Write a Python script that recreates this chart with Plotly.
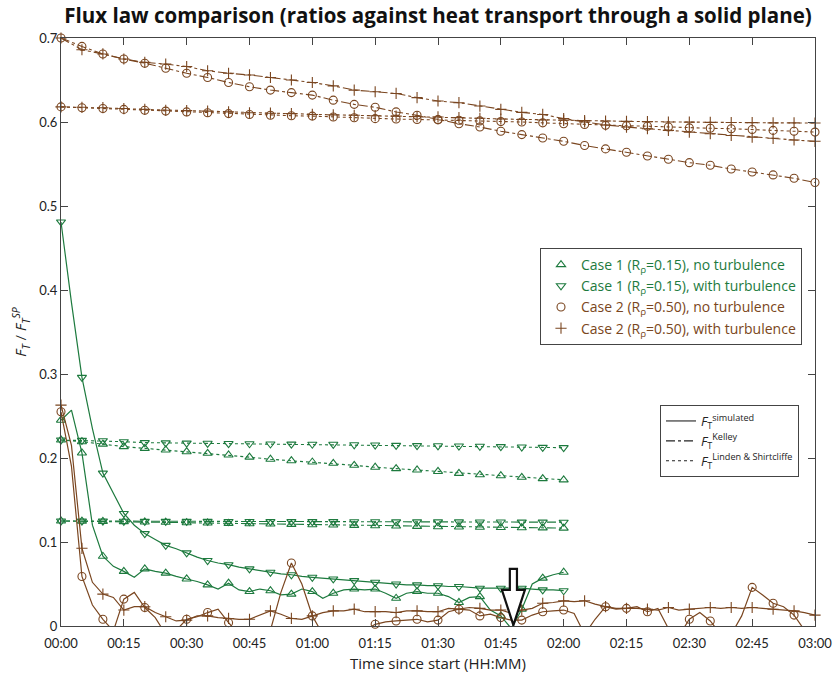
import plotly.graph_objects as go

GREEN = "#1d7a3e"
BROWN = "#7a4620"
AXIS = "#444444"
FONT = "Open Sans"

# ---------------- time bases (minutes since start) ----------------
t_sim2 = [i * 2.5 for i in range(73)]      # 0 .. 180 min
t_sim1 = t_sim2[:49]                        # 0 .. 120 min
t_mod2 = [i * 5 for i in range(37)]         # 0 .. 180 min
t_mod1 = t_mod2[:25]                        # 0 .. 120 min

tick_vals = [0, 15, 30, 45, 60, 75, 90, 105, 120, 135, 150, 165, 180]
tick_text = ["00:00", "00:15", "00:30", "00:45", "01:00", "01:15", "01:30",
             "01:45", "02:00", "02:15", "02:30", "02:45", "03:00"]
ytick_vals = [0, 0.1, 0.2, 0.3, 0.4, 0.5, 0.6, 0.7]
ytick_text = ["0", "0.1", "0.2", "0.3", "0.4", "0.5", "0.6", "0.7"]

# ---------------- Case 1 (R=0.15), simulated ----------------
c1_noturb_sim = [0.245, 0.257, 0.206, 0.120, 0.083, 0.071, 0.065, 0.058, 0.068, 0.065,
                 0.063, 0.059, 0.056, 0.053, 0.049, 0.044, 0.051, 0.043, 0.041, 0.044,
                 0.042, 0.037, 0.038, 0.044, 0.041, 0.033, 0.039, 0.043, 0.044, 0.043,
                 0.044, 0.039, 0.033, 0.039, 0.041, 0.039, 0.039, 0.035, 0.028, 0.034,
                 0.035, 0.019, 0.012, -0.003, 0.020, 0.050, 0.057, 0.061, 0.064]
c1_turb_sim = [0.481, 0.385, 0.296, 0.235, 0.182, 0.158, 0.134, 0.120, 0.110, 0.103,
               0.096, 0.092, 0.087, 0.082, 0.078, 0.075, 0.073, 0.070, 0.068, 0.066,
               0.064, 0.062, 0.061, 0.059, 0.058, 0.057, 0.056, 0.055, 0.054, 0.053,
               0.052, 0.051, 0.050, 0.049, 0.049, 0.048, 0.048, 0.047, 0.047, 0.046,
               0.045, 0.045, 0.045, 0.045, 0.045, 0.044, 0.043, 0.043, 0.042]

# ---------------- Case 1 models ----------------
c1_noturb_kelley = [0.1250, 0.1248, 0.1245, 0.1242, 0.1238, 0.1235, 0.1230, 0.1226, 0.1222,
                    0.1218, 0.1214, 0.1210, 0.1206, 0.1202, 0.1198, 0.1194, 0.1190, 0.1186,
                    0.1182, 0.1179, 0.1176, 0.1173, 0.1170, 0.1168, 0.1165]
c1_turb_kelley = [0.1250, 0.1249, 0.1248, 0.1247, 0.1246, 0.1246, 0.1245, 0.1245, 0.1244,
                  0.1244, 0.1243, 0.1243, 0.1242, 0.1242, 0.1241, 0.1241, 0.1240, 0.1240,
                  0.1239, 0.1239, 0.1238, 0.1238, 0.1237, 0.1237, 0.1236]
c1_noturb_ls = [0.2214, 0.2194, 0.2165, 0.2135, 0.2115, 0.2095, 0.2075, 0.2056, 0.2036,
                0.2010, 0.1985, 0.1968, 0.1952, 0.1937, 0.1913, 0.1890, 0.1873, 0.1857,
                0.1840, 0.1817, 0.1800, 0.1789, 0.1770, 0.1754, 0.1740]
c1_turb_ls = [0.2214, 0.2210, 0.2206, 0.2194, 0.2183, 0.2180, 0.2177, 0.2175, 0.2172,
              0.2170, 0.2167, 0.2165, 0.2164, 0.2163, 0.2158, 0.2155, 0.2150, 0.2147,
              0.2145, 0.2143, 0.2140, 0.2135, 0.2131, 0.2127, 0.2123]

# ---------------- Case 2 (R=0.50), simulated ----------------
c2_noturb_sim = [0.255, 0.190, 0.059, 0.025, 0.008, -0.006, 0.032, 0.040, 0.022, 0.010,
                 -0.010, -0.005, 0.008, 0.011, 0.016, 0.020, 0.004, -0.010, -0.020, -0.020,
                 -0.005, 0.040, 0.075, 0.050, 0.012, -0.010, -0.020, -0.020, -0.015, -0.005,
                 0.002, 0.005, 0.006, 0.007, 0.008, 0.005, 0.007, 0.017, 0.020, 0.019,
                 0.012, 0.014, 0.010, 0.007, 0.007, 0.013, 0.017, 0.018, 0.019, 0.015,
                 -0.010, 0.008, 0.023, 0.020, 0.021, 0.023, 0.017, 0.021, -0.003, -0.012,
                 0.008, 0.016, 0.006, -0.010, -0.010, 0.012, 0.046, 0.037, 0.027, 0.023,
                 0.013, -0.005, -0.020]
c2_turb_sim = [0.263, 0.215, 0.0925, 0.052, 0.038, 0.034, 0.019, 0.023, 0.023, 0.016,
               0.011, 0.006, 0.007, 0.012, 0.012, 0.010, 0.009, 0.008, 0.008, 0.013,
               0.018, 0.014, 0.009, 0.008, 0.012, 0.016, 0.018, 0.018, 0.020, 0.017,
               0.017, 0.017, 0.016, 0.018, 0.018, 0.017, 0.017, 0.021, 0.020, 0.022,
               0.021, 0.019, 0.019, 0.015, 0.019, 0.021, 0.027, 0.028, 0.030, 0.029,
               0.030, 0.026, 0.023, 0.021, 0.021, 0.021, 0.020, 0.019, 0.022, 0.019,
               0.020, 0.021, 0.022, 0.021, 0.022, 0.021, 0.022, 0.021, 0.020, 0.019,
               0.018, 0.016, 0.013]

# ---------------- Case 2 models ----------------
c2_noturb_kelley = [0.700, 0.690, 0.681, 0.675, 0.670, 0.664, 0.658, 0.653, 0.647, 0.642,
                    0.638, 0.635, 0.632, 0.626, 0.621, 0.6175, 0.612, 0.608, 0.603, 0.598,
                    0.594, 0.589, 0.585, 0.581, 0.577, 0.572, 0.568, 0.564, 0.5595, 0.5556,
                    0.5516, 0.5485, 0.544, 0.5405, 0.537, 0.533, 0.528]
c2_turb_kelley = [0.700, 0.686, 0.681, 0.675, 0.671, 0.669, 0.666, 0.661, 0.658, 0.656,
                  0.653, 0.650, 0.647, 0.643, 0.638, 0.636, 0.634, 0.629, 0.625, 0.623,
                  0.619, 0.615, 0.6115, 0.609, 0.604, 0.600, 0.5965, 0.594, 0.592, 0.590,
                  0.588, 0.586, 0.584, 0.582, 0.5806, 0.5786, 0.577]
c2_noturb_ls = [0.618, 0.617, 0.616, 0.615, 0.614, 0.613, 0.612, 0.611, 0.610, 0.609,
                0.608, 0.6075, 0.607, 0.606, 0.605, 0.604, 0.6035, 0.603, 0.6025, 0.602,
                0.6013, 0.6005, 0.600, 0.599, 0.598, 0.597, 0.596, 0.5955, 0.595, 0.594,
                0.593, 0.5925, 0.592, 0.591, 0.590, 0.589, 0.588]
c2_turb_ls = [0.618, 0.6175, 0.617, 0.616, 0.615, 0.614, 0.6135, 0.613, 0.612, 0.611,
              0.6105, 0.610, 0.609, 0.6085, 0.608, 0.6075, 0.607, 0.6065, 0.606, 0.6052,
              0.6044, 0.6036, 0.603, 0.6024, 0.602, 0.6016, 0.6012, 0.6008, 0.6004, 0.600,
              0.5998, 0.5996, 0.5994, 0.5992, 0.599, 0.5989, 0.5988]

legend_case = ["Case 1 (R<sub>ρ</sub>=0.15), no turbulence",
               "Case 1 (R<sub>ρ</sub>=0.15), with turbulence",
               "Case 2 (R<sub>ρ</sub>=0.50), no turbulence",
               "Case 2 (R<sub>ρ</sub>=0.50), with turbulence"]
legend_law = ["<i>F</i><sub>T</sub><sup>simulated</sup>",
              "<i>F</i><sub>T</sub><sup>Kelley</sup>",
              "<i>F</i><sub>T</sub><sup>Linden &amp; Shirtcliffe</sup>"]

# arrow marker (annotation) position in data units
ARROW_T = 108.0
ARROW_TOP, ARROW_NECK, ARROW_TIP = 0.068, 0.043, 0.001
SHAFT_HW, HEAD_HW = 0.85, 2.75

fig = go.Figure()

series = [
    (t_sim1, c1_noturb_sim, t_mod1, c1_noturb_kelley, c1_noturb_ls, GREEN, "triangle-up-open"),
    (t_sim1, c1_turb_sim, t_mod1, c1_turb_kelley, c1_turb_ls, GREEN, "triangle-down-open"),
    (t_sim2, c2_noturb_sim, t_mod2, c2_noturb_kelley, c2_noturb_ls, BROWN, "circle-open"),
    (t_sim2, c2_turb_sim, t_mod2, c2_turb_kelley, c2_turb_ls, BROWN, "cross-thin-open"),
]

MS = 8
for ts, sim, tm, kel, ls, col, sym in series:
    mk = dict(symbol=sym, size=MS, color=col, line=dict(color=col, width=1.1))
    # model curves
    fig.add_trace(go.Scatter(x=tm, y=ls, mode="lines+markers", showlegend=False,
                             line=dict(color=col, width=1.1, dash="dot"), marker=mk,
                             cliponaxis=False))
    fig.add_trace(go.Scatter(x=tm, y=kel, mode="lines+markers", showlegend=False,
                             line=dict(color=col, width=1.1, dash="dashdot"), marker=mk,
                             cliponaxis=False))
    # simulated curve (dense) + markers every 5 minutes
    fig.add_trace(go.Scatter(x=ts, y=sim, mode="lines", showlegend=False,
                             line=dict(color=col, width=1.2)))
    ym = [v if v >= 0 else None for v in sim[::2]]
    fig.add_trace(go.Scatter(x=ts[::2], y=ym, mode="markers", showlegend=False,
                             marker=mk, cliponaxis=False))

# legend 1 : cases (marker symbols only), text coloured like the case
for name, (_, _, _, _, _, col, sym) in zip(legend_case, series):
    fig.add_trace(go.Scatter(x=[None], y=[None], mode="markers",
                             name=f'<span style="color:{col}">{name}</span>',
                             legend="legend",
                             marker=dict(symbol=sym, size=MS, color=col,
                                         line=dict(color=col, width=1.1))))
# legend 2 : flux laws (line styles)
for name, dash in zip(legend_law, ["solid", "dashdot", "dot"]):
    fig.add_trace(go.Scatter(x=[None], y=[None], mode="lines", name=name,
                             legend="legend2",
                             line=dict(color="#222222", width=1.1, dash=dash)))

# hollow down arrow
path = (f"M {ARROW_T-SHAFT_HW},{ARROW_TOP} L {ARROW_T+SHAFT_HW},{ARROW_TOP} "
        f"L {ARROW_T+SHAFT_HW},{ARROW_NECK} L {ARROW_T+HEAD_HW},{ARROW_NECK} "
        f"L {ARROW_T},{ARROW_TIP} L {ARROW_T-HEAD_HW},{ARROW_NECK} "
        f"L {ARROW_T-SHAFT_HW},{ARROW_NECK} Z")
fig.add_shape(type="path", path=path, xref="x", yref="y",
              line=dict(color="#111111", width=2.2), fillcolor="white", layer="above")

fig.update_layout(
    width=835, height=673,
    margin=dict(l=61, r=20, t=38, b=47),
    plot_bgcolor="white", paper_bgcolor="white",
    font=dict(family=FONT, color="#222222"),
    title=dict(text="<b>Flux law comparison (ratios against heat transport through a solid plane)</b>",
               x=0.5, xref="paper", xanchor="center", y=1 - 16 / 673, yref="container",
               yanchor="middle", font=dict(size=20.5, family=FONT, color="#111111")),
    xaxis=dict(range=[0, 180], tickvals=tick_vals, ticktext=tick_text, ticks="inside",
               ticklen=7, tickcolor=AXIS, showline=True, linecolor=AXIS, linewidth=1,
               mirror="ticks", showgrid=False, zeroline=False, ticklabelstandoff=5,
               automargin=False, tickfont=dict(size=13, family="Lato"),
               title=dict(text="Time since start (HH:MM)", font=dict(size=15))),
    yaxis=dict(range=[0, 0.7], tickvals=ytick_vals, ticktext=ytick_text, ticks="inside",
               ticklen=7, tickcolor=AXIS, showline=True, linecolor=AXIS, linewidth=1,
               mirror="ticks", showgrid=False, zeroline=False,
               tickfont=dict(size=13, family="Lato"),
               title=dict(text="<i>F</i><sub><i>T</i></sub> / <i>F</i><sub><i>T</i></sub><sup><i>SP</i></sup>",
                          font=dict(size=15), standoff=8)),
    legend=dict(x=(540 - 61) / 754, y=(626 - 248) / 588, xanchor="left", yanchor="top",
                bordercolor=AXIS, borderwidth=1, bgcolor="white",
                font=dict(size=14), tracegroupgap=0, itemwidth=30),
    legend2=dict(x=(660 - 61) / 754, y=(626 - 405) / 588, xanchor="left", yanchor="top",
                 bordercolor=AXIS, borderwidth=1, bgcolor="white",
                 font=dict(size=13, color="#222222"), tracegroupgap=0, itemwidth=30),
)

fig.write_html("out.html", post_script="document.body.style.margin='0';",
               config={"displayModeBar": False})
